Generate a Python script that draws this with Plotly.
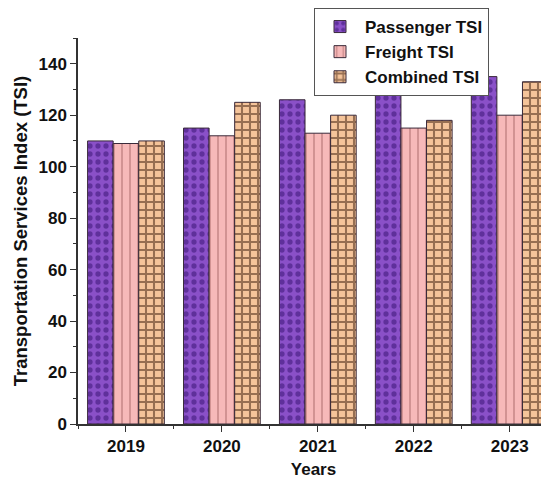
import plotly.graph_objects as go

years = ["2019", "2020", "2021", "2022", "2023"]
passenger = [110, 115, 126, 130, 135]
freight = [109, 112, 113, 115, 120]
combined = [110, 125, 120, 118, 133]

x = list(range(len(years)))

series = [
    ("Passenger TSI", passenger, "#8a50c8", "#34106e", ".", 8, 0.34),
    ("Freight TSI", freight, "#f7b9b9", "#9a5a5a", "|", 8, 0.2),
    ("Combined TSI", combined, "#f5c49a", "#3a1a0a", "+", 8, 0.45),
]

fig = go.Figure()
for name, vals, bg, fg, shape, size, solid in series:
    fig.add_trace(
        go.Bar(
            x=x,
            y=vals,
            name=name,
            marker={
                "color": bg,
                "line": {"color": "#3a2a3a", "width": 1},
                "pattern": {
                    "shape": shape,
                    "fgcolor": fg,
                    "bgcolor": bg,
                    "size": size,
                    "solidity": solid,
                },
            },
        )
    )

font = "Liberation Sans, Arial, sans-serif"
fig.update_layout(
    width=549,
    height=488,
    barmode="group",
    bargap=0.2,
    bargroupgap=0,
    plot_bgcolor="white",
    paper_bgcolor="white",
    margin={"l": 70, "r": 8, "t": 30, "b": 72, "autoexpand": False},
    font={"family": font, "size": 17, "color": "#111"},
    showlegend=True,
    legend={
        "x": 306 / 549,
        "y": 1.0,
        "xref": "container",
        "yref": "container",
        "xanchor": "left",
        "yanchor": "top",
        "bgcolor": "white",
        "bordercolor": "#555",
        "borderwidth": 1,
        "font": {"family": font, "size": 17, "weight": "bold"},
        "tracegroupgap": 0,
        "itemwidth": 40,
    },
    xaxis={
        "range": [-0.5, 4.41],
        "automargin": False,
        "tickvals": x,
        "ticktext": years,
        "tickfont": {"size": 17, "weight": "bold"},
        "ticks": "outside",
        "ticklen": 6,
        "tickcolor": "#333",
        "showline": True,
        "linecolor": "#333",
        "linewidth": 1.5,
        "showgrid": False,
        "zeroline": False,
        "minor": {"tick0": 0.5, "dtick": 1, "ticks": "outside", "ticklen": 3, "tickcolor": "#333"},
        "title": {"text": "Years", "font": {"size": 17, "weight": "bold"}, "standoff": 8},
    },
    yaxis={
        "range": [0, 150],
        "automargin": False,
        "tickvals": [0, 20, 40, 60, 80, 100, 120, 140],
        "tickfont": {"size": 17, "weight": "bold"},
        "ticks": "outside",
        "ticklen": 6,
        "tickcolor": "#333",
        "showline": True,
        "linecolor": "#333",
        "linewidth": 1.5,
        "showgrid": False,
        "zeroline": False,
        "minor": {"dtick": 10, "ticks": "outside", "ticklen": 3, "tickcolor": "#333"},
        "title": {
            "text": "Transportation Services Index (TSI)",
            "font": {"size": 18.5, "weight": "bold"},
            "standoff": 6,
        },
    },
)

fig.write_html("out.html")
